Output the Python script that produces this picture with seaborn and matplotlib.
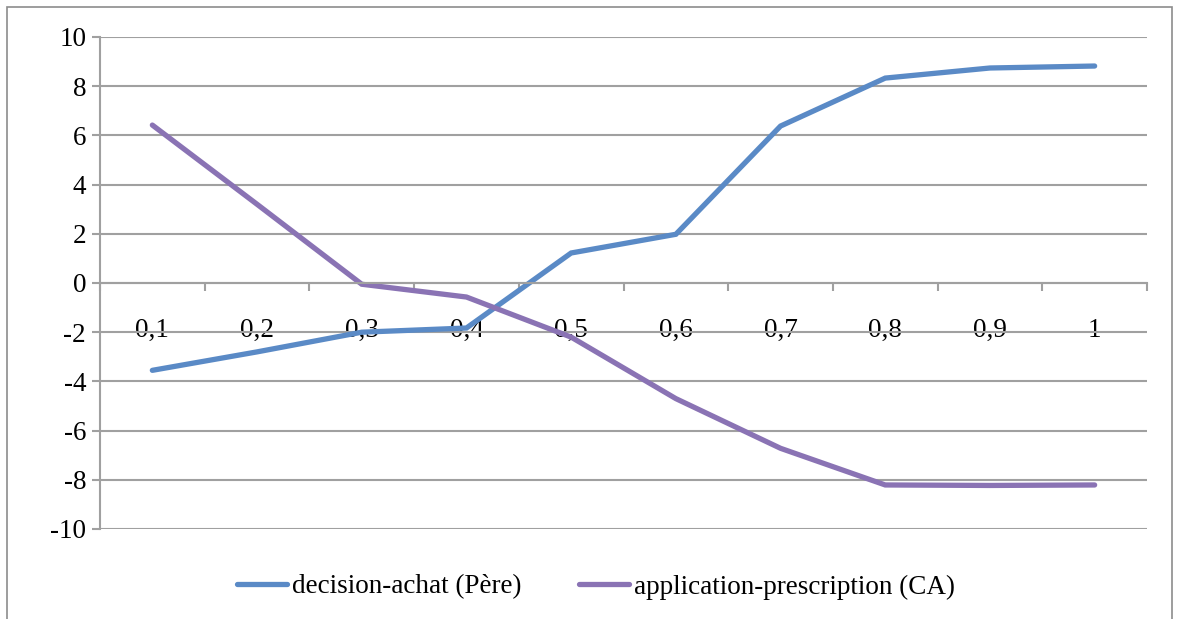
import numpy as np
import pandas as pd
import seaborn as sns
import matplotlib.pyplot as plt
from matplotlib.patches import Rectangle
from matplotlib.lines import Line2D

# Category labels along the x axis
categories = ["0,1", "0,2", "0,3", "0,4", "0,5", "0,6", "0,7", "0,8", "0,9", "1"]

# Series values
decision_achat = [-3.55, -2.8, -2.0, -1.83, 1.22, 1.98, 6.38, 8.33, 8.74, 8.82]
application_prescription = [6.42, 3.2, -0.05, -0.57, -2.2, -4.7, -6.72, -8.21, -8.23, -8.21]

series_names = ["decision-achat (Père)", "application-prescription (CA)"]
series_colors = ["#5A8AC6", "#8A73B4"]

y_ticks = list(range(-10, 11, 2))

df = pd.DataFrame({
    "idx": list(range(len(categories))) * 2,
    "value": decision_achat + application_prescription,
    "serie": [series_names[0]] * len(categories) + [series_names[1]] * len(categories),
})

sns.set_theme(style="white")
plt.rcParams["font.family"] = ["Liberation Serif", "DejaVu Serif"]
plt.rcParams["text.color"] = "black"
plt.rcParams["xtick.labelcolor"] = "black"
plt.rcParams["ytick.labelcolor"] = "black"

FS = 19.5

fig = plt.figure(figsize=(11.77, 6.19), dpi=100)
W, H = 1177, 619
ax = fig.add_axes([100 / W, 1 - 529 / H, (1147 - 100) / W, (529 - 37) / H])

grid_color = "#A0A0A0"

sns.lineplot(data=df, x="idx", y="value", hue="serie", palette=series_colors,
             hue_order=series_names, linewidth=3.8, ax=ax, legend=False,
             solid_capstyle="round", solid_joinstyle="miter")

ax.set_xlim(-0.5, len(categories) - 0.5)
ax.set_ylim(-10, 10)
ax.set_yticks(y_ticks)
ax.set_yticklabels([str(v) for v in y_ticks], fontsize=FS)
ax.yaxis.grid(True, color=grid_color, linewidth=1.5)
ax.set_axisbelow(True)

# horizontal category axis crosses at zero
for side in ["top", "right"]:
    ax.spines[side].set_visible(False)
ax.spines["bottom"].set_position(("data", 0))
ax.spines["bottom"].set_color(grid_color)
ax.spines["bottom"].set_linewidth(1.5)
ax.spines["left"].set_color(grid_color)
ax.spines["left"].set_linewidth(1.5)

ax.set_xticks(np.arange(-0.5, len(categories), 1.0))
ax.set_xticklabels([])
ax.set_xticks(np.arange(len(categories)), minor=True)
ax.set_xticklabels(categories, minor=True, fontsize=FS)
ax.tick_params(axis="x", which="major", direction="out", length=6, width=1.5,
               color=grid_color, bottom=True)
ax.tick_params(axis="x", which="minor", length=0, pad=25, bottom=True)
ax.tick_params(axis="y", direction="out", length=6, width=1.5, color=grid_color,
               left=True, pad=4)
ax.set_xlabel("")
ax.set_ylabel("")

handles = [Line2D([0], [0], color=c, linewidth=3.8) for c in series_colors]
fig.legend(handles, series_names, loc="center", bbox_to_anchor=(596 / W, 1 - 587 / H),
           ncol=2, frameon=False, fontsize=FS, handlelength=1.85,
           handletextpad=0.2, columnspacing=2.1)

# chart area border
fig.patches.append(Rectangle((7 / W, -0.05), (1172 - 7) / W, 1 - 7 / H + 0.05,
                             transform=fig.transFigure, fill=False,
                             edgecolor="#8C8C8C", linewidth=1.2))

fig.savefig("out.png", dpi=100)
